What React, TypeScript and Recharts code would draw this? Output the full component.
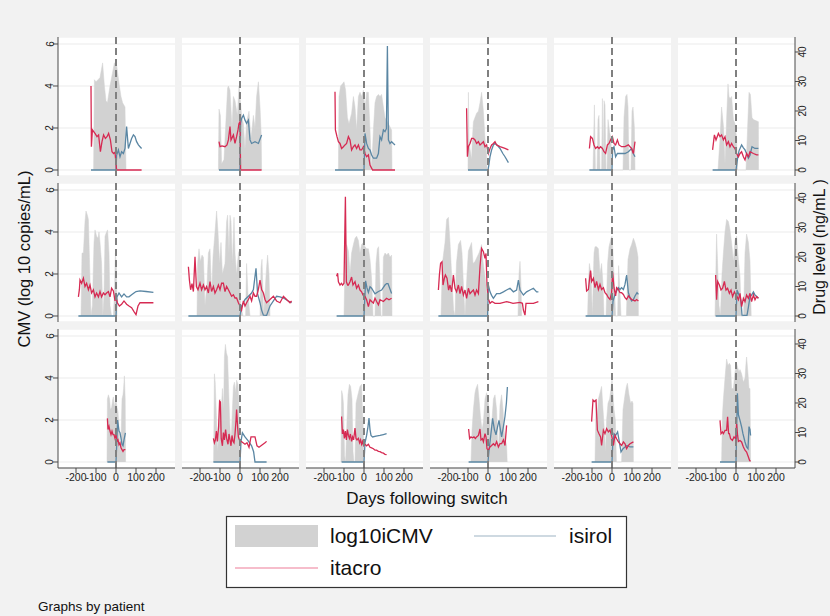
import React from 'react'
import {
  ComposedChart,
  Area,
  Line,
  XAxis,
  YAxis,
  CartesianGrid,
  ReferenceLine
} from 'recharts'

// [day following switch, value] pairs; cmv in log10 copies/mL, drug levels in ng/mL
type Pt = [number, number]

// row 1
const cmv1: Pt[] = [[-112, 0], [-108, 4.3], [-100, 4.2], [-90, 4.3], [-80, 4.4], [-67, 5.1], [-58, 4.0], [-50, 3.3], [-43, 3.2], [-30, 4.0], [-18, 4.6], [-8, 5.1], [3, 5.0], [10, 4.5], [17, 4.0], [25, 3.5], [33, 3.2], [45, 3.0], [50, 0]]
const tac1: Pt[] = [[-125, 28.5], [-123, 7.9], [-118, 13.6], [-105, 12.4], [-95, 11.3], [-87, 11.9], [-78, 6.2], [-70, 9.6], [-62, 11.9], [-53, 10.7], [-45, 11.3], [-37, 12.4], [-28, 10.2], [-20, 6.2], [-12, 5.6], [-5, 6.0], [3, 0], [128, 0]]
const sir1: Pt[] = [[-125, 0], [0, 0], [3, 5.0], [12, 6.8], [20, 4.5], [28, 6.2], [37, 5.6], [45, 7.3], [53, 14.7], [62, 7.3], [70, 9.0], [78, 10.7], [87, 11.9], [95, 11.3], [103, 9.6], [112, 8.5], [120, 7.9], [128, 7.3]]

const cmv2: Pt[] = [[-108, 0], [-105, 2.9], [-98, 2.6], [-92, 0.3], [-80, 0.5], [-62, 3.9], [-58, 4.0], [-50, 3.8], [-40, 2.0], [-33, 3.5], [-25, 3.3], [-13, 2.6], [-5, 4.0], [0, 3.5], [8, 2.6], [17, 2.2], [25, 1.0], [33, 2.3], [45, 2.8], [55, 1.5], [67, 2.6], [75, 2.0], [83, 3.5], [92, 4.2], [100, 3.0], [106, 1.7], [108, 0]]
const tac2: Pt[] = [[-105, 9.6], [-100, 7.9], [-90, 8.2], [-75, 7.9], [-65, 8.5], [-58, 10.2], [-50, 14.7], [-45, 10.2], [-33, 11.9], [-25, 9.0], [-17, 11.3], [-10, 13.6], [-5, 15.8], [0, 16.4], [3, 0], [108, 0]]
const sir2: Pt[] = [[-105, 0], [0, 0], [3, 15.8], [8, 17.5], [17, 18.6], [25, 16.9], [33, 15.8], [42, 16.9], [50, 10.2], [58, 9.0], [75, 9.6], [92, 9.0], [108, 11.9]]

const cmv3: Pt[] = [[-128, 0], [-125, 3.5], [-117, 4.0], [-108, 4.1], [-100, 4.2], [-92, 3.8], [-83, 2.5], [-75, 2.2], [-62, 2.7], [-53, 3.5], [-45, 3.0], [-37, 1.9], [-28, 3.5], [-20, 3.7], [-12, 3.5], [-3, 3.8], [5, 2.9], [13, 3.7], [22, 3.7], [30, 1.9], [38, 0], [47, 1.9], [55, 3.2], [63, 3.5], [72, 3.6], [80, 3.5], [88, 3.6], [97, 3.0], [105, 2.5], [122, 2.2], [138, 1.9], [140, 0]]
const tac3: Pt[] = [[-145, 26.5], [-143, 13.6], [-135, 11.3], [-128, 9.6], [-120, 9.0], [-112, 7.3], [-103, 7.9], [-95, 8.5], [-87, 9.0], [-78, 11.3], [-70, 10.2], [-62, 6.8], [-53, 7.9], [-45, 8.5], [-37, 7.3], [-28, 8.5], [-20, 6.8], [-12, 6.8], [-3, 7.9], [5, 5.6], [13, 4.5], [22, 5.1], [30, 1.7], [43, 0], [155, 0]]
const sir3: Pt[] = [[-145, 0], [0, 0], [5, 12.4], [13, 9.0], [22, 7.3], [30, 6.8], [38, 5.1], [47, 4.0], [63, 4.0], [72, 5.6], [80, 11.3], [88, 10.2], [97, 13.6], [105, 13.0], [112, 14.0], [117, 42.0], [122, 10.2], [130, 9.0], [138, 9.6], [147, 9.0], [155, 8.5]]

const cmv4: Pt[] = [[-100, 0], [-98, 3.7], [-95, 1.5], [-90, 1.0], [-82, 0.5], [-78, 1.5], [-73, 2.3], [-65, 2.5], [-57, 2.7], [-48, 2.8], [-40, 3.2], [-32, 3.7], [-23, 2.8], [-15, 1.5], [-7, 0.8], [-5, 0]]
const tac4: Pt[] = [[-107, 20.9], [-103, 4.5], [-98, 8.0], [-90, 9.0], [-82, 10.7], [-73, 10.7], [-65, 10.2], [-57, 9.0], [-48, 9.6], [-40, 8.5], [-32, 9.0], [-23, 9.6], [-15, 7.9], [-7, 8.5], [2, 5.6], [10, 7.3], [18, 8.5], [27, 9.0], [35, 9.6], [43, 8.5], [60, 7.9], [85, 7.3], [102, 6.8]]
const sir4: Pt[] = [[-100, 0], [0, 0], [5, 2.0], [10, 4.5], [18, 6.8], [27, 8.5], [35, 9.0], [45, 8.5], [60, 7.3], [75, 5.5], [85, 4.5], [102, 2.5]]

const cmv5: Pt[] = [[-95, 0], [-88, 3.1], [-83, 0], [-75, 0], [-70, 2.4], [-65, 2.6], [-60, 0], [-52, 0], [-48, 3.4], [-44, 0], [-40, 3.3], [-35, 3.1], [-30, 0], [-25, 0], [-20, 2.4], [-12, 1.8], [-5, 1.5], [-2, 0], [55, 0], [60, 2.5], [68, 3.5], [75, 3.6], [80, 3.0], [85, 0], [95, 0], [100, 2.8], [105, 3.0], [112, 2.0], [115, 0]]
const tac5: Pt[] = [[-113, 7.3], [-107, 11.3], [-98, 10.7], [-90, 8.5], [-82, 7.3], [-73, 7.9], [-65, 7.3], [-57, 7.9], [-48, 7.3], [-40, 6.2], [-32, 5.6], [-23, 8.5], [-15, 9.0], [-7, 10.2], [2, 11.3], [10, 9.0], [18, 8.5], [27, 10.2], [35, 8.5], [48, 7.9], [65, 7.9], [82, 8.5], [98, 7.3], [107, 5.6], [115, 9.6]]
const sir5: Pt[] = [[-113, 0], [0, 0], [3, 6.8], [10, 7.9], [18, 4.5], [27, 5.6], [48, 5.6], [65, 5.6], [82, 6.2], [98, 7.3], [107, 5.5], [115, 4.5]]

const cmv6: Pt[] = [[-90, 0], [-80, 1.5], [-72, 3.0], [-62, 2.0], [-55, 0.3], [-47, 2.4], [-40, 4.1], [-35, 3.5], [-30, 3.4], [-22, 3.5], [-13, 2.4], [-5, 2.2], [3, 1.5], [8, 0], [50, 0], [58, 2.0], [65, 3.7], [72, 3.6], [80, 2.5], [87, 2.4], [112, 2.3], [113, 0]]
const tac6: Pt[] = [[-117, 6.8], [-108, 11.9], [-100, 10.2], [-88, 12.4], [-80, 11.3], [-72, 11.9], [-63, 10.2], [-55, 11.3], [-47, 8.5], [-38, 9.6], [-30, 7.9], [-22, 9.0], [-13, 7.9], [-5, 7.3], [3, 5.6], [12, 4.5], [20, 5.6], [28, 6.2], [37, 4.5], [45, 3.4], [53, 5.6], [62, 4.5], [70, 6.2], [87, 5.6], [103, 5.1], [112, 5.1]]
const sir6: Pt[] = [[-117, 0], [0, 0], [8, 4.0], [15, 6.5], [28, 8.5], [37, 7.5], [45, 6.8], [53, 5.5], [62, 4.0], [70, 5.0], [80, 7.9], [95, 7.3], [112, 7.3]]

// row 2
const cmv7: Pt[] = [[-175, 0], [-170, 3.0], [-163, 3.0], [-155, 4.5], [-150, 5.0], [-143, 4.8], [-138, 4.6], [-132, 2.5], [-125, 0], [-118, 0.5], [-110, 3.5], [-105, 4.1], [-97, 3.8], [-90, 3.7], [-85, 4.0], [-80, 3.5], [-72, 2.5], [-66, 0], [-60, 1.0], [-55, 3.8], [-47, 4.0], [-42, 4.1], [-35, 3.0], [-30, 0.5], [-22, 0], [-13, 0], [-8, 1.0], [-3, 3.0], [2, 2.5], [5, 0]]
const tac7: Pt[] = [[-188, 6.5], [-183, 9.0], [-180, 12.2], [-172, 11.1], [-163, 12.8], [-155, 10.0], [-147, 11.1], [-138, 8.9], [-130, 10.5], [-122, 7.8], [-113, 8.9], [-105, 6.5], [-97, 7.8], [-88, 6.5], [-80, 8.3], [-72, 6.5], [-63, 7.8], [-55, 7.2], [-47, 7.8], [-38, 8.3], [-30, 6.5], [-22, 9.4], [-13, 8.5], [-5, 5.1], [0, 6.5], [7, 4.5], [17, 3.4], [28, 4.0], [40, 5.1], [53, 4.0], [65, 3.4], [78, 2.8], [90, 1.5], [100, 0.5], [110, 3.4], [120, 4.5], [150, 4.5], [187, 4.5]]
const sir7: Pt[] = [[-188, 0], [0, 0], [5, 6.5], [15, 7.8], [28, 6.5], [40, 7.5], [53, 6.5], [65, 6.5], [78, 7.2], [90, 7.8], [100, 8.3], [120, 8.5], [150, 8.3], [187, 8.0]]

const cmv8: Pt[] = [[-215, 0], [-212, 2.5], [-205, 3.2], [-198, 2.6], [-190, 2.9], [-183, 2.8], [-175, 0.5], [-165, 1.5], [-158, 3.0], [-150, 3.2], [-142, 1.0], [-135, 2.8], [-125, 4.0], [-117, 5.0], [-110, 4.0], [-102, 2.5], [-95, 3.5], [-88, 2.0], [-75, 2.5], [-67, 4.5], [-62, 4.8], [-55, 3.0], [-50, 4.8], [-45, 4.5], [-38, 2.5], [-30, 4.7], [-25, 3.0], [-17, 2.0], [-8, 3.0], [-3, 3.1], [3, 0.5], [15, 0], [28, 0], [33, 2.5], [40, 1.0], [50, 0], [100, 0], [105, 2.3], [110, 2.7], [118, 0], [132, 2.2], [138, 2.9], [145, 2.0], [150, 0]]
const tac8: Pt[] = [[-258, 16.7], [-253, 12.2], [-247, 8.9], [-240, 11.0], [-233, 8.3], [-225, 20.1], [-218, 10.0], [-210, 8.9], [-200, 11.1], [-192, 8.9], [-183, 10.5], [-175, 8.9], [-167, 10.0], [-158, 7.8], [-150, 11.7], [-142, 8.3], [-133, 10.0], [-125, 7.8], [-117, 8.9], [-108, 10.5], [-100, 8.9], [-92, 11.1], [-83, 11.1], [-75, 8.3], [-67, 10.0], [-58, 8.9], [-50, 7.8], [-42, 6.7], [-33, 7.2], [-25, 6.1], [-17, 6.1], [-8, 4.5], [0, 3.4], [8, 2.0], [17, 5.1], [25, 3.4], [33, 4.5], [42, 5.6], [50, 6.7], [58, 5.1], [67, 7.8], [75, 6.7], [83, 6.7], [92, 9.0], [100, 12.2], [108, 9.0], [117, 7.8], [125, 5.6], [133, 4.5], [150, 5.6], [167, 6.7], [183, 5.1], [200, 4.5], [217, 6.7], [233, 5.6], [250, 4.5], [258, 5.1]]
const sir8: Pt[] = [[-258, 0], [0, 0], [8, 3.4], [17, 4.5], [25, 5.6], [42, 6.7], [58, 7.8], [67, 9.0], [80, 16.2], [88, 7.5], [100, 4.5], [108, 2.0], [117, 0.3], [133, 0.2], [150, 3.4], [167, 5.1], [183, 6.7], [200, 6.5], [217, 6.1], [242, 5.1], [258, 4.5]]

const cmv9: Pt[] = [[-100, 0], [-95, 2.5], [-87, 3.4], [-78, 3.1], [-70, 2.0], [-62, 3.0], [-53, 3.4], [-45, 3.7], [-37, 3.8], [-28, 3.6], [-20, 3.0], [-12, 3.4], [-3, 3.5], [5, 3.3], [13, 3.2], [22, 3.2], [30, 2.7], [38, 1.8], [45, 0], [55, 0], [60, 2.5], [67, 3.2], [73, 3.3], [78, 2.0], [85, 0], [92, 0], [97, 2.8], [105, 3.0], [113, 2.9], [122, 3.0], [130, 2.8], [138, 2.9], [140, 0]]
const tac9: Pt[] = [[-137, 13.5], [-132, 14.5], [-128, 11.6], [-120, 10.5], [-113, 11.1], [-107, 10.5], [-100, 11.1], [-93, 40.4], [-88, 11.6], [-82, 10.5], [-78, 10.5], [-70, 11.6], [-62, 13.2], [-55, 10.5], [-45, 11.6], [-37, 9.4], [-28, 10.5], [-20, 8.8], [-12, 8.2], [-5, 7.1], [5, 6.6], [13, 5.5], [22, 3.2], [30, 5.5], [38, 4.9], [47, 4.4], [55, 6.0], [63, 4.9], [72, 3.8], [80, 5.5], [97, 4.9], [113, 6.0], [125, 5.5], [138, 6.0]]
const sir9: Pt[] = [[-137, 0], [0, 0], [8, 11.9], [15, 9.5], [22, 8.0], [30, 9.9], [38, 9.4], [55, 7.5], [72, 8.3], [88, 8.8], [105, 10.5], [113, 11.0], [120, 11.0], [138, 7.6]]

const cmv10: Pt[] = [[-235, 0], [-228, 2.5], [-215, 3.5], [-207, 4.6], [-198, 4.7], [-190, 3.5], [-182, 2.0], [-172, 0.3], [-165, 0], [-158, 2.5], [-148, 3.4], [-137, 3.6], [-130, 3.0], [-123, 1.5], [-115, 0], [-105, 2.0], [-98, 3.1], [-90, 3.3], [-82, 3.5], [-75, 2.5], [-65, 2.6], [-55, 2.8], [-45, 3.0], [-32, 3.4], [-25, 2.6], [-15, 1.9], [-5, 1.0], [0, 0], [150, 0], [155, 2.0], [160, 2.6], [165, 1.5], [168, 0]]
const tac10: Pt[] = [[-248, 8.8], [-243, 13.9], [-237, 17.9], [-230, 18.4], [-225, 10.5], [-218, 12.8], [-213, 13.9], [-205, 12.8], [-197, 8.8], [-190, 10.5], [-182, 8.2], [-173, 13.9], [-165, 9.4], [-157, 8.2], [-148, 10.5], [-140, 7.6], [-132, 10.0], [-123, 7.1], [-115, 8.8], [-107, 6.0], [-98, 9.4], [-90, 7.6], [-82, 8.2], [-73, 8.8], [-65, 7.1], [-57, 8.8], [-48, 7.6], [-40, 16.7], [-32, 22.9], [-23, 21.8], [-15, 19.5], [-10, 21.2], [-5, 10.5], [2, 5.8], [10, 4.3], [20, 4.9], [35, 4.3], [60, 4.3], [93, 4.9], [125, 4.3], [160, 4.6], [172, 4.3], [177, 2.0], [185, 0.3], [190, 4.3], [227, 4.3], [252, 4.9]]
const sir10: Pt[] = [[-248, 0], [-2, 0], [2, 10.5], [10, 8.2], [18, 7.0], [27, 6.0], [43, 7.6], [60, 7.6], [77, 8.2], [93, 8.8], [110, 9.4], [127, 8.2], [143, 8.8], [152, 12.2], [160, 8.8], [177, 7.1], [193, 8.2], [210, 8.8], [227, 9.4], [243, 8.2], [252, 8.2]]

const cmv11: Pt[] = [[-122, 0], [-118, 1.5], [-113, 2.5], [-105, 2.0], [-98, 0], [-90, 3.0], [-85, 3.3], [-77, 3.3], [-68, 3.2], [-60, 2.0], [-52, 2.5], [-45, 1.5], [-40, 0], [-30, 0], [-22, 2.5], [-15, 3.3], [-10, 3.5], [-5, 3.7], [0, 3.8], [5, 3.0], [12, 1.5], [18, 0], [28, 0], [33, 2.4], [38, 1.5], [45, 0], [72, 0], [80, 2.7], [90, 3.2], [98, 3.4], [107, 3.7], [115, 3.5], [123, 3.2], [130, 2.8], [132, 0]]
const tac11: Pt[] = [[-132, 12.8], [-127, 8.5], [-118, 9.0], [-110, 13.9], [-107, 15.4], [-102, 11.7], [-93, 12.8], [-85, 9.6], [-77, 11.7], [-68, 9.0], [-60, 10.7], [-52, 9.0], [-43, 9.6], [-35, 7.9], [-27, 7.3], [-18, 6.2], [-10, 5.6], [-2, 7.9], [3, 14.8], [10, 9.6], [18, 6.8], [23, 9.6], [32, 9.0], [40, 7.9], [48, 7.9], [57, 7.3], [65, 6.2], [73, 5.6], [82, 6.8], [98, 5.6], [115, 5.1], [123, 5.6], [132, 5.1]]
const sir11: Pt[] = [[-132, 0], [0, 0], [5, 5.1], [15, 7.3], [23, 8.5], [32, 9.6], [40, 9.0], [48, 9.6], [57, 9.0], [65, 10.7], [73, 13.9], [82, 7.9], [90, 6.2], [98, 5.1], [107, 5.6], [115, 6.8], [125, 7.9], [132, 7.3]]

const cmv12: Pt[] = [[-105, 0], [-100, 2.5], [-97, 3.9], [-92, 2.5], [-85, 0.5], [-78, 0], [-70, 2.0], [-63, 3.0], [-55, 4.0], [-47, 4.6], [-38, 4.5], [-30, 4.1], [-22, 3.5], [-13, 2.6], [-5, 3.6], [3, 3.8], [12, 2.7], [20, 1.9], [26, 0], [38, 0], [45, 3.0], [53, 3.9], [62, 3.5], [70, 2.6], [76, 0]]
const tac12: Pt[] = [[-102, 13.9], [-97, 5.5], [-92, 11.7], [-83, 10.5], [-75, 8.8], [-67, 9.4], [-58, 11.7], [-50, 8.8], [-42, 9.4], [-33, 7.7], [-25, 8.8], [-17, 6.6], [-8, 8.2], [0, 7.1], [5, 6.6], [12, 5.5], [20, 7.7], [28, 3.2], [37, 6.0], [45, 4.9], [53, 7.1], [62, 6.0], [70, 7.7], [78, 4.9], [87, 7.1], [95, 5.5], [103, 6.6], [112, 6.0]]
const sir12: Pt[] = [[-102, 0], [0, 0], [5, 8.8], [10, 8.0], [15, 7.1], [20, 6.6], [25, 5.0], [30, 0.3], [40, 0.2], [55, 0.2], [62, 3.0], [70, 6.6], [78, 7.1], [87, 8.2], [95, 7.1], [103, 6.6], [112, 6.0]]

// row 3
const cmv13: Pt[] = [[-45, 0], [-43, 3.0], [-38, 3.2], [-32, 3.0], [-28, 2.5], [-22, 2.6], [-16, 3.0], [-13, 3.1], [-8, 2.6], [-5, 2.8], [0, 3.0], [5, 2.6], [10, 2.4], [15, 1.5], [20, 0.5], [25, 1.0], [30, 3.0], [35, 3.2], [38, 3.5], [42, 4.1], [46, 3.0], [48, 0]]
const tac13: Pt[] = [[-43, 14.8], [-40, 11.0], [-35, 12.1], [-30, 10.5], [-25, 9.3], [-20, 10.5], [-15, 9.3], [-10, 9.3], [-5, 8.0], [0, 9.3], [5, 7.0], [10, 7.5], [15, 5.9], [20, 6.5], [25, 4.8], [30, 4.2], [35, 3.6], [40, 4.2], [47, 4.2]]
const sir13: Pt[] = [[-43, 0], [0, 0], [3, 5.0], [8, 14.2], [15, 10.5], [20, 9.9], [25, 8.1], [30, 6.0], [35, 5.5], [40, 7.5], [47, 9.9]]

const cmv14: Pt[] = [[-132, 0], [-128, 4.2], [-124, 3.8], [-118, 2.2], [-112, 0.5], [-105, 1.5], [-100, 3.0], [-95, 2.2], [-88, 3.5], [-82, 2.5], [-78, 5.0], [-73, 5.6], [-68, 5.2], [-62, 5.0], [-57, 3.5], [-52, 2.0], [-45, 0.8], [-38, 2.5], [-33, 3.6], [-28, 3.8], [-22, 3.3], [-17, 3.9], [-10, 3.7], [-5, 2.5], [-2, 1.3], [0, 0]]
const tac14: Pt[] = [[-133, 8.0], [-128, 6.5], [-123, 7.5], [-118, 10.5], [-113, 7.0], [-107, 12.0], [-102, 20.6], [-98, 20.3], [-94, 8.0], [-88, 5.5], [-83, 10.0], [-78, 7.5], [-72, 11.0], [-67, 8.0], [-60, 6.0], [-55, 9.5], [-50, 7.5], [-45, 5.5], [-40, 9.0], [-35, 7.0], [-30, 6.5], [-25, 9.5], [-20, 14.0], [-17, 17.8], [-12, 12.0], [-8, 8.5], [-3, 7.5], [5, 7.0], [15, 6.5], [25, 6.0], [35, 6.5], [45, 5.0], [55, 8.5], [65, 8.5], [75, 8.5], [85, 5.5], [95, 5.0], [105, 5.5], [115, 6.0], [125, 6.5], [133, 7.0]]
const sir14: Pt[] = [[-133, 0], [0, 0], [5, 7.0], [12, 9.9], [25, 8.5], [42, 7.1], [58, 5.5], [68, 3.5], [75, 0], [133, 0]]

const cmv15: Pt[] = [[-115, 0], [-112, 3.4], [-107, 3.2], [-103, 2.8], [-97, 0.3], [-92, 0], [-87, 1.5], [-80, 3.2], [-73, 3.7], [-67, 3.6], [-60, 3.0], [-55, 0.5], [-50, 0], [-45, 0], [-40, 2.8], [-33, 3.1], [-28, 3.3], [-20, 3.6], [-12, 3.7], [-8, 2.5], [-3, 1.5], [0, 0]]
const tac15: Pt[] = [[-112, 15.4], [-108, 9.5], [-103, 11.0], [-98, 8.0], [-93, 10.5], [-88, 7.5], [-83, 11.0], [-78, 9.0], [-73, 8.0], [-68, 9.5], [-62, 7.0], [-57, 8.5], [-52, 7.5], [-45, 11.5], [-40, 8.0], [-35, 7.5], [-28, 8.0], [-22, 6.5], [-17, 7.5], [-12, 6.0], [-7, 7.0], [-2, 5.5], [5, 6.0], [13, 5.5], [22, 6.0], [30, 5.0], [38, 4.8], [47, 4.5], [55, 4.0], [63, 4.0], [72, 3.6], [80, 3.5], [88, 3.2], [97, 3.0], [105, 2.6], [113, 2.5]]
const sir15: Pt[] = [[-112, 0], [0, 0], [5, 6.5], [13, 9.0], [20, 12.0], [25, 14.9], [30, 11.0], [35, 9.0], [43, 8.5], [60, 8.8], [80, 9.0], [97, 9.3], [113, 9.6]]

const cmv16: Pt[] = [[-85, 0], [-80, 1.5], [-73, 2.5], [-65, 3.3], [-60, 3.5], [-52, 3.7], [-45, 3.0], [-38, 2.2], [-30, 1.5], [-23, 1.9], [-15, 3.0], [-7, 3.3], [0, 3.0], [5, 2.5], [10, 1.9], [15, 1.0], [20, 2.0], [27, 3.0], [35, 3.2], [43, 2.5], [48, 1.0], [53, 0.8], [60, 2.7], [68, 3.2], [75, 2.5], [80, 1.5], [88, 1.0], [93, 0.8], [96, 0]]
const tac16: Pt[] = [[-97, 11.2], [-92, 7.9], [-85, 8.5], [-78, 8.2], [-70, 8.5], [-63, 8.0], [-57, 8.5], [-48, 9.0], [-40, 11.2], [-35, 7.5], [-28, 7.9], [-23, 6.9], [-15, 9.6], [-10, 8.5], [-5, 4.5], [2, 4.0], [10, 5.1], [18, 5.6], [27, 6.2], [35, 5.6], [43, 6.9], [52, 5.1], [60, 6.2], [68, 6.2], [77, 7.5], [85, 5.6], [93, 12.4]]
const sir16: Pt[] = [[-97, 0], [0, 0], [5, 4.0], [13, 8.5], [23, 14.8], [32, 11.0], [40, 9.2], [48, 12.0], [55, 14.1], [62, 11.0], [68, 8.5], [77, 12.0], [85, 15.5], [92, 20.0], [97, 25.4]]

const cmv17: Pt[] = [[-85, 0], [-80, 3.0], [-75, 2.0], [-68, 3.0], [-60, 3.3], [-52, 3.6], [-45, 2.5], [-38, 1.5], [-32, 0.5], [-27, 2.0], [-20, 2.8], [-12, 3.0], [-5, 3.5], [0, 3.9], [5, 3.3], [10, 2.5], [17, 2.0], [22, 0], [48, 0], [55, 2.5], [65, 3.2], [72, 3.6], [77, 3.75], [85, 3.2], [93, 2.8], [100, 2.9], [105, 2.8], [107, 0]]
const tac17: Pt[] = [[-102, 13.7], [-95, 21.0], [-88, 20.5], [-80, 21.0], [-73, 10.8], [-65, 9.6], [-57, 8.5], [-52, 5.6], [-43, 10.8], [-35, 9.6], [-27, 11.3], [-18, 10.2], [-10, 10.8], [-2, 9.0], [3, 7.3], [7, 5.6], [15, 9.0], [23, 7.9], [32, 6.8], [40, 6.2], [48, 5.6], [57, 6.8], [65, 6.2], [73, 4.5], [82, 5.6], [90, 6.2], [98, 6.5], [107, 6.8]]
const sir17: Pt[] = [[-102, 0], [0, 0], [3, 5.0], [10, 9.6], [18, 9.0], [28, 10.2], [35, 7.5], [45, 3.4], [55, 4.5], [65, 5.1], [75, 5.6], [90, 5.1], [107, 5.1]]

const cmv18: Pt[] = [[-72, 0], [-68, 2.2], [-63, 3.0], [-55, 4.0], [-47, 4.9], [-40, 4.6], [-33, 4.7], [-27, 4.6], [-22, 3.5], [-13, 3.5], [-5, 4.3], [3, 4.7], [8, 4.5], [15, 4.3], [20, 4.4], [28, 4.2], [37, 3.8], [45, 4.0], [50, 4.7], [53, 5.0], [60, 4.2], [65, 3.5], [70, 3.5], [73, 0]]
const tac18: Pt[] = [[-80, 14.1], [-75, 9.6], [-68, 10.2], [-63, 9.6], [-55, 10.7], [-47, 10.7], [-42, 15.3], [-37, 9.6], [-33, 9.6], [-27, 7.9], [-18, 7.3], [-10, 8.5], [-2, 7.9], [3, 12.9], [8, 9.0], [12, 7.0], [20, 7.3], [28, 6.8], [37, 5.1], [45, 4.0], [53, 3.4], [62, 1.7], [68, 0.5], [73, 0.3]]
const sir18: Pt[] = [[-80, 0], [0, 0], [3, 10.0], [7, 23.3], [12, 16.0], [20, 14.1], [28, 11.9], [35, 9.5], [45, 6.8], [53, 5.1], [60, 4.5], [65, 12.0], [70, 11.0], [73, 9.0]]

const xTicks = [-200, -100, 0, 100, 200]
const cmvTicks = [0, 2, 4, 6]
const drugTicks = [0, 10, 20, 30, 40]

type Patient = { cmv: Pt[]; tacro: Pt[]; sirol: Pt[] }

const patients: Patient[] = [
  { cmv: cmv1, tacro: tac1, sirol: sir1 },
  { cmv: cmv2, tacro: tac2, sirol: sir2 },
  { cmv: cmv3, tacro: tac3, sirol: sir3 },
  { cmv: cmv4, tacro: tac4, sirol: sir4 },
  { cmv: cmv5, tacro: tac5, sirol: sir5 },
  { cmv: cmv6, tacro: tac6, sirol: sir6 },
  { cmv: cmv7, tacro: tac7, sirol: sir7 },
  { cmv: cmv8, tacro: tac8, sirol: sir8 },
  { cmv: cmv9, tacro: tac9, sirol: sir9 },
  { cmv: cmv10, tacro: tac10, sirol: sir10 },
  { cmv: cmv11, tacro: tac11, sirol: sir11 },
  { cmv: cmv12, tacro: tac12, sirol: sir12 },
  { cmv: cmv13, tacro: tac13, sirol: sir13 },
  { cmv: cmv14, tacro: tac14, sirol: sir14 },
  { cmv: cmv15, tacro: tac15, sirol: sir15 },
  { cmv: cmv16, tacro: tac16, sirol: sir16 },
  { cmv: cmv17, tacro: tac17, sirol: sir17 },
  { cmv: cmv18, tacro: tac18, sirol: sir18 }
]

const FONT = '"Liberation Sans", Arial, Helvetica, sans-serif'
const BG = '#f2f2f2'
const GREY = '#d2d2d2'
const RED = '#d62a52'
const BLUE = '#5a86a3'
const AXIS = '#4a4a4a'

// panel geometry (plot region of each small multiple)
const PLOT_X0 = 58
const PLOT_Y0 = 37
const PLOT_W = 117
const PLOT_H = 139
const COL_STEP = 124
const ROW_STEP = 146
const Y_AXIS_W = 24
const X_AXIS_H = 22

const toRows = (pts: Pt[]) => pts.map(([day, v]) => ({ day, v }))

const LeftTick = (props: any) => {
  const { y, payload } = props
  const bx = Y_AXIS_W - 4.5
  return (
    <text x={bx} y={y} transform={`rotate(-90 ${bx} ${y})`} textAnchor="middle" fontSize={10} fill="#222" fontFamily={FONT}>
      {payload.value}
    </text>
  )
}

const RightTick = (props: any) => {
  const { y, payload } = props
  const bx = PLOT_W + 11
  return (
    <text x={bx} y={y} transform={`rotate(-90 ${bx} ${y})`} textAnchor="middle" fontSize={10} fill="#222" fontFamily={FONT}>
      {payload.value}
    </text>
  )
}

function Panel({ p, idx }: { p: Patient; idx: number }) {
  const row = Math.floor(idx / 6)
  const col = idx % 6
  const showL = col === 0
  const showR = col === 5
  const showX = row === 2
  const lw = showL ? Y_AXIS_W : 0
  const rw = showR ? Y_AXIS_W : 0
  return (
    <div style={{ position: 'absolute', left: PLOT_X0 + col * COL_STEP - lw, top: PLOT_Y0 + row * ROW_STEP }}>
      <ComposedChart
        width={PLOT_W + lw + rw}
        height={PLOT_H + (showX ? X_AXIS_H : 0)}
        margin={{ top: 0, right: 0, bottom: 0, left: 0 }}
      >
        <CartesianGrid yAxisId="l" vertical={false} fill="#fff" stroke="#ebebeb" />
        <XAxis
          dataKey="day"
          type="number"
          domain={[-290, 295]}
          allowDataOverflow
          ticks={xTicks}
          hide={!showX}
          height={X_AXIS_H}
          tickSize={5}
          tickMargin={1}
          interval={0}
          axisLine={{ stroke: AXIS }}
          tickLine={{ stroke: AXIS }}
          tick={{ fontSize: 10.5, fill: '#222', fontFamily: FONT }}
        />
        <YAxis
          yAxisId="l"
          type="number"
          domain={[-0.286, 6.333]}
          allowDataOverflow
          ticks={cmvTicks}
          hide={!showL}
          width={Y_AXIS_W}
          tickSize={5}
          interval={0}
          axisLine={{ stroke: AXIS }}
          tickLine={{ stroke: AXIS }}
          tick={<LeftTick />}
        />
        <YAxis
          yAxisId="r"
          orientation="right"
          type="number"
          domain={[-2.03, 45.08]}
          allowDataOverflow
          ticks={drugTicks}
          hide={!showR}
          width={Y_AXIS_W}
          tickSize={5}
          interval={0}
          axisLine={{ stroke: AXIS }}
          tickLine={{ stroke: AXIS }}
          tick={<RightTick />}
        />
        <Area
          yAxisId="l"
          data={toRows(p.cmv)}
          dataKey="v"
          type="linear"
          fill={GREY}
          fillOpacity={1}
          stroke={GREY}
          strokeWidth={0.5}
          dot={false}
          activeDot={false}
          isAnimationActive={false}
        />
        <Line
          yAxisId="r"
          data={toRows(p.sirol)}
          dataKey="v"
          type="linear"
          stroke={BLUE}
          strokeWidth={1.3}
          dot={false}
          activeDot={false}
          isAnimationActive={false}
        />
        <Line
          yAxisId="r"
          data={toRows(p.tacro)}
          dataKey="v"
          type="linear"
          stroke={RED}
          strokeWidth={1.3}
          dot={false}
          activeDot={false}
          isAnimationActive={false}
        />
        <ReferenceLine x={0} yAxisId="l" stroke="#808080" strokeWidth={2} strokeDasharray="7 4" />
      </ComposedChart>
    </div>
  )
}

export default function App() {
  return (
    <div style={{ position: 'absolute', left: 0, top: 0, width: 830, height: 616, background: BG, overflow: 'hidden', fontFamily: FONT }}>
      {patients.map((p, i) => (
        <Panel key={i} p={p} idx={i} />
      ))}
      <svg width={830} height={616} style={{ position: 'absolute', left: 0, top: 0, pointerEvents: 'none' }}>
        <text x={30} y={259} transform="rotate(-90 30 259)" textAnchor="middle" fontSize={16.5} fill="#111" fontFamily={FONT}>
          CMV (log 10 copies/mL)
        </text>
        <text x={825} y={247} transform="rotate(-90 825 247)" textAnchor="middle" fontSize={16} fill="#111" fontFamily={FONT}>
          Drug level (ng/mL )
        </text>
        <text x={427} y={504} textAnchor="middle" fontSize={17} fill="#111" fontFamily={FONT}>
          Days following switch
        </text>
        <rect x={226.5} y={516.5} width={400} height={71} fill="#fff" stroke="#333" strokeWidth={1.2} />
        <rect x={235} y={525} width={83} height={22} fill={GREY} />
        <text x={330} y={543} fontSize={21} fill="#111" fontFamily={FONT}>log10iCMV</text>
        <line x1={474} x2={556} y1={536} y2={536} stroke="#9db3c4" strokeWidth={1.2} />
        <text x={569} y={543} fontSize={21} fill="#111" fontFamily={FONT}>isirol</text>
        <line x1={235} x2={318} y1={568} y2={568} stroke="#ee7d98" strokeWidth={1.2} />
        <text x={330} y={575} fontSize={21} fill="#111" fontFamily={FONT}>itacro</text>
        <text x={38} y={611} fontSize={13.5} fill="#111" fontFamily={FONT}>Graphs by patient</text>
      </svg>
    </div>
  )
}
